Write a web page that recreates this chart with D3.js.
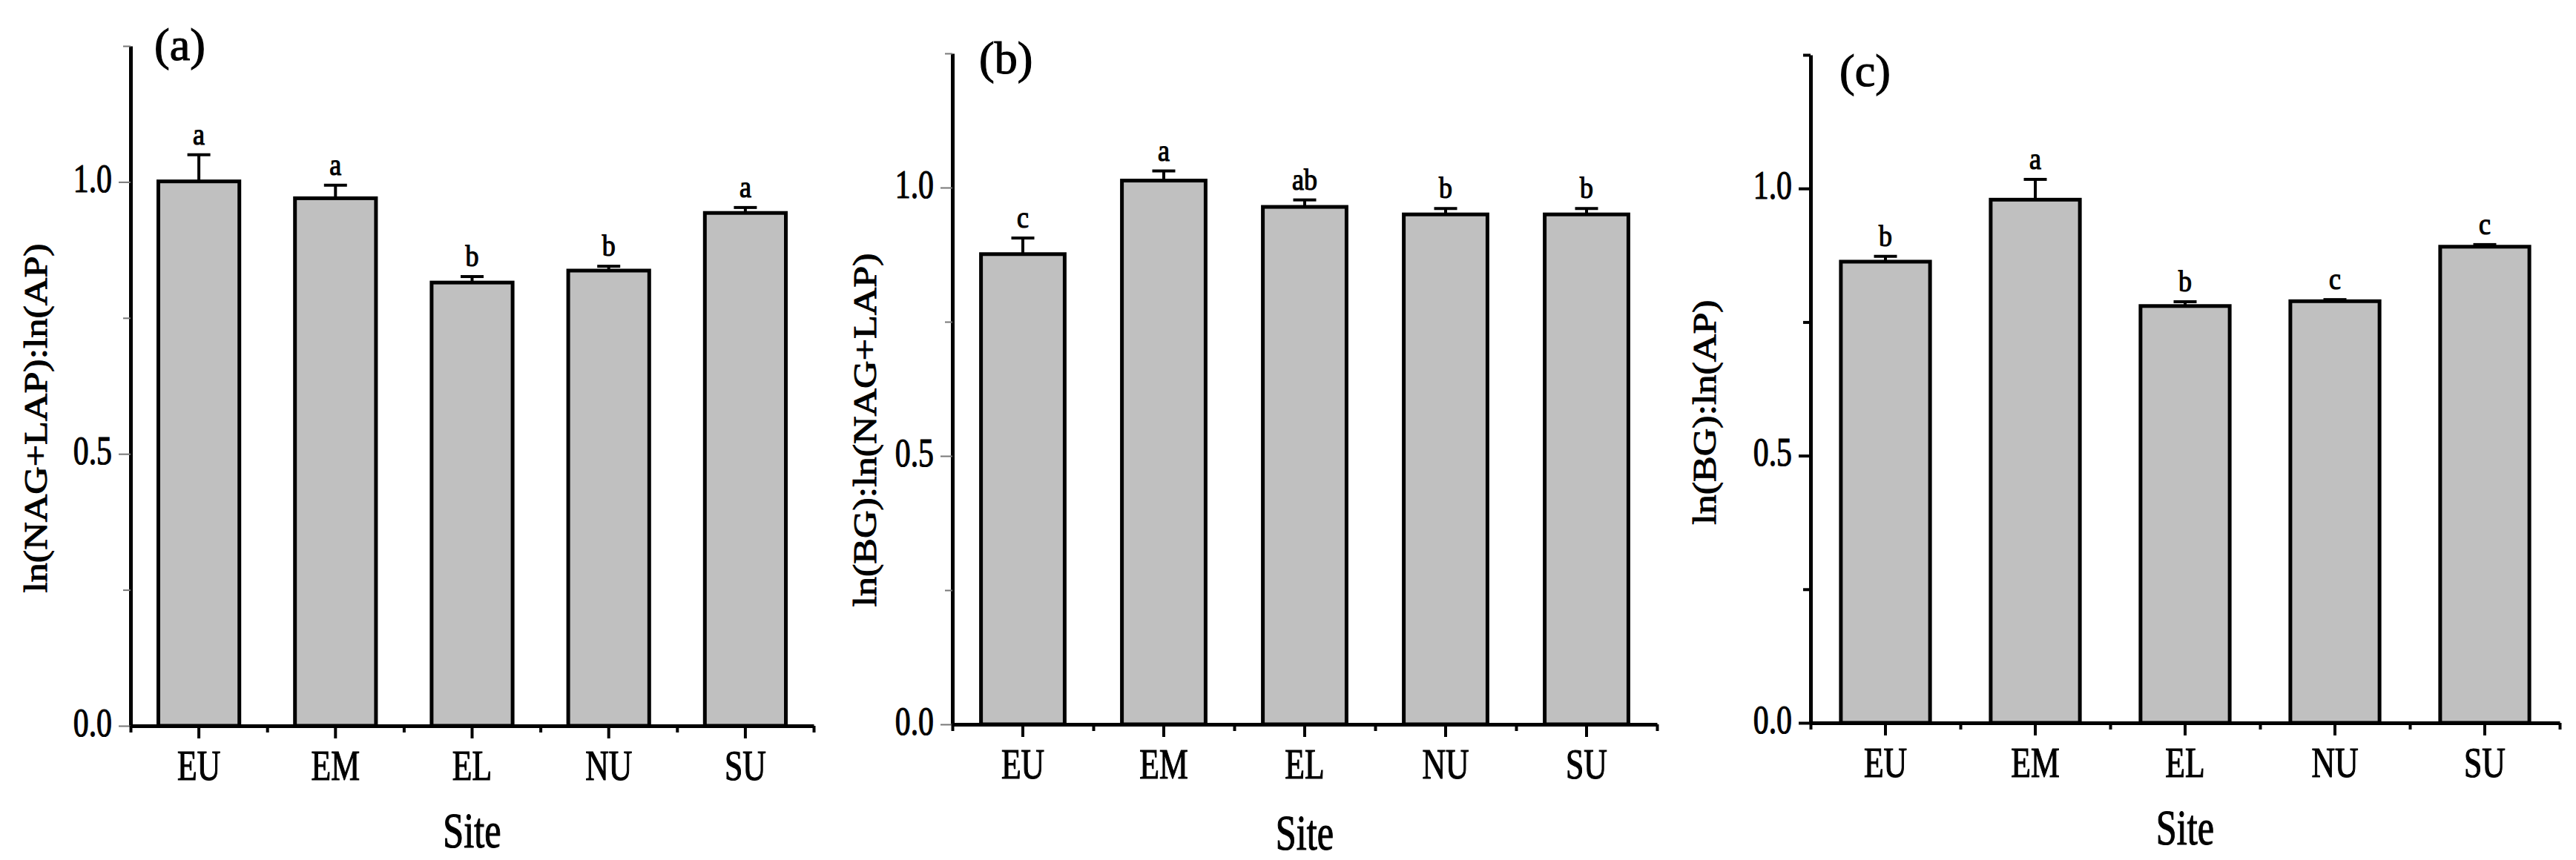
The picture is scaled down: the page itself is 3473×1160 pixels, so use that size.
<!DOCTYPE html>
<html>
<head>
<meta charset="utf-8">
<script src="https://cdn.jsdelivr.net/npm/d3@7"></script>
<style>
    body { margin: 0; background: #fff; }
    text { font-family: "Liberation Serif", "Times New Roman", serif; fill: #000; stroke: #000; stroke-width: 1.2px; }
</style>
</head>
<body>
<svg id="chart" width="3473" height="1160"></svg>
<script>
// data
const sites = ['EU', 'EM', 'EL', 'NU', 'SU'];
const yTicks = [0, 0.5, 1.0];
const yMinorTicks = [0.25, 0.75, 1.25];

const valuesA = [1.001, 0.970, 0.815, 0.837, 0.943];
const errorsA = [0.049, 0.024, 0.011, 0.008, 0.010];
const lettersA = ['a', 'a', 'b', 'b', 'a'];

const valuesB = [0.876, 1.013, 0.964, 0.950, 0.950];
const errorsB = [0.030, 0.018, 0.013, 0.011, 0.011];
const lettersB = ['c', 'a', 'ab', 'b', 'b'];

const valuesC = [0.863, 0.979, 0.780, 0.789, 0.891];
const errorsC = [0.010, 0.038, 0.008, 0.003, 0.004];
const lettersC = ['b', 'a', 'b', 'c', 'c'];

// layout of each panel
const panels = [
    { tag: '(a)', yTitle: 'ln(NAG+LAP):ln(AP)', values: valuesA, errors: errorsA, letters: lettersA,
      left: 176, right: 1097, top: 62, bottom: 979,
      tagX: 208, tagY: 81, titleX: 50, titleY: 564, siteY: 1143, tickColor: '#777', tickWidth: 2 },
    { tag: '(b)', yTitle: 'ln(BG):ln(NAG+LAP)', values: valuesB, errors: errorsB, letters: lettersB,
      left: 1284, right: 2234, top: 72, bottom: 977,
      tagX: 1320, tagY: 99, titleX: 1168, titleY: 580, siteY: 1146, tickColor: '#777', tickWidth: 2 },
    { tag: '(c)', yTitle: 'ln(BG):ln(AP)', values: valuesC, errors: errorsC, letters: lettersC,
      left: 2441, right: 3451, top: 74, bottom: 975,
      tagX: 2480, tagY: 116, titleX: 2300, titleY: 556, siteY: 1139, tickColor: '#000', tickWidth: 4 }
];

const svg = d3.select('#chart');

function drawPanel (p) {
    const g = svg.append('g');

    const x = d3.scaleBand().domain(sites).range([p.left, p.right]).padding(0);
    const xEdges = d3.scaleLinear().domain([0, sites.length]).range([p.left, p.right]);
    const y = d3.scaleLinear().domain([0, 1.25]).range([p.bottom, p.top]);

    const barW = x.bandwidth() * 0.62 - 5;
    const capW = 31;
    const rows = sites.map((s, i) => ({ site: s, v: p.values[i], e: p.errors[i], l: p.letters[i] }));

    // error bars (behind the bars)
    const err = g.append('g').attr('stroke', '#000').attr('stroke-width', 4);
    err.selectAll('line.stem').data(rows).join('line')
        .attr('class', 'stem')
        .attr('x1', d => x(d.site) + x.bandwidth() / 2)
        .attr('x2', d => x(d.site) + x.bandwidth() / 2)
        .attr('y1', d => y(d.v))
        .attr('y2', d => y(d.v + d.e));
    err.selectAll('line.cap').data(rows).join('line')
        .attr('class', 'cap')
        .attr('x1', d => x(d.site) + x.bandwidth() / 2 - capW / 2)
        .attr('x2', d => x(d.site) + x.bandwidth() / 2 + capW / 2)
        .attr('y1', d => y(d.v + d.e))
        .attr('y2', d => y(d.v + d.e));

    // bars
    g.selectAll('rect.bar').data(rows).join('rect')
        .attr('class', 'bar')
        .attr('x', d => x(d.site) + (x.bandwidth() - barW) / 2)
        .attr('y', d => y(d.v))
        .attr('width', barW)
        .attr('height', d => y(0) - y(d.v))
        .attr('fill', '#c0c0c0')
        .attr('stroke', '#000')
        .attr('stroke-width', 5);

    // significance letters
    g.selectAll('text.sig').data(rows).join('text')
        .attr('class', 'sig')
        .attr('text-anchor', 'middle')
        .attr('font-size', '40px')
        .attr('transform', d => `translate(${x(d.site) + x.bandwidth() / 2},${y(d.v + d.e) - 14}) scale(0.9,1)`)
        .text(d => d.l);

    // y axis
    const yAxis = g.append('g')
        .attr('transform', `translate(${p.left},0)`)
        .call(d3.axisLeft(y).tickValues(yTicks).tickSize(16).tickSizeOuter(0).tickFormat(d3.format('.1f')));
    yAxis.select('.domain').attr('stroke-width', 5).attr('stroke', '#000');
    yAxis.selectAll('.tick line').attr('stroke', p.tickColor).attr('stroke-width', p.tickWidth);
    yAxis.selectAll('.tick text')
        .attr('font-size', '55px')
        .attr('font-family', '"Liberation Serif", serif')
        .attr('x', -25 / 0.76)
        .attr('dy', '0.24em')
        .attr('transform', 'scale(0.76,1)');

    const yMinor = g.append('g')
        .attr('transform', `translate(${p.left},0)`)
        .call(d3.axisLeft(y).tickValues(yMinorTicks).tickSize(10).tickFormat(''));
    yMinor.select('.domain').remove();
    yMinor.selectAll('.tick line').attr('stroke', p.tickColor).attr('stroke-width', p.tickWidth);

    // x axis
    const xMinor = g.append('g')
        .attr('transform', `translate(0,${p.bottom})`)
        .call(d3.axisBottom(xEdges).tickValues(d3.range(sites.length + 1)).tickSize(9).tickFormat(''));
    xMinor.select('.domain').remove();
    xMinor.selectAll('.tick line').attr('stroke', '#000').attr('stroke-width', 4);

    const xAxis = g.append('g')
        .attr('transform', `translate(0,${p.bottom})`)
        .call(d3.axisBottom(x).tickSize(17).tickSizeOuter(0).tickPadding(16));
    xAxis.select('.domain').attr('stroke-width', 5).attr('stroke', '#000');
    xAxis.selectAll('.tick line').attr('stroke', '#000').attr('stroke-width', 4);
    xAxis.selectAll('.tick text')
        .attr('font-size', '56px')
        .attr('font-family', '"Liberation Serif", serif')
        .attr('transform', 'scale(0.78,1)');

    // titles
    g.append('text')
        .attr('transform', `translate(${(p.left + p.right) / 2},${p.siteY}) scale(0.74,1)`)
        .attr('text-anchor', 'middle')
        .attr('font-size', '68px')
        .text('Site');

    g.append('text')
        .attr('transform', `translate(${p.titleX},${p.titleY}) scale(0.85,1) rotate(-90)`)
        .attr('text-anchor', 'middle')
        .attr('dy', '0.3em')
        .attr('font-size', '52px')
        .text(p.yTitle);

    g.append('text')
        .attr('x', p.tagX)
        .attr('y', p.tagY)
        .attr('font-size', '62px')
        .text(p.tag);
}

panels.forEach(drawPanel);
</script>
</body>
</html>
